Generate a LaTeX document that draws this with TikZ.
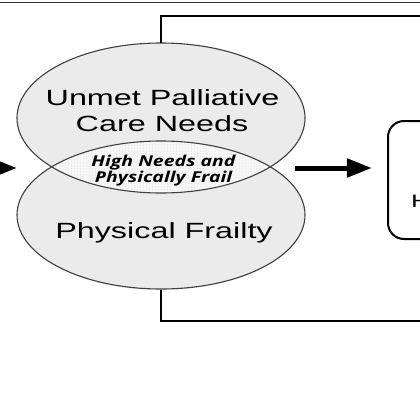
\documentclass[tikz,border=0pt]{standalone}
\usepackage{fontspec}
\setmainfont{Liberation Sans}
\newfontfamily\smallfont{Open Sans}
\usetikzlibrary{shapes.geometric,arrows.meta,patterns}
\newcommand{\hstretch}[1]{\scalebox{1.47}[1]{#1}}
\begin{document}
\begin{tikzpicture}[x=1bp,y=-1bp,
  ellfill/.style={ellipse, inner sep=0pt, minimum width=288bp, minimum height=150bp, fill=black!8},
  ellline/.style={draw=black!75, line width=1.1bp},
  bracket/.style={draw=black, line width=2bp},
  bigarrow/.style={draw=black, line width=5bp, -{Triangle[length=25bp,width=18bp]}},
  bigtext/.style={font=\fontsize{22bp}{26bp}\selectfont, align=center, inner sep=0pt},
  smalltext/.style={font=\smallfont\bfseries\itshape\fontsize{15bp}{17bp}\selectfont, align=center, inner sep=0pt},
  boxstyle/.style={draw=black, line width=2bp, rounded corners=16bp, minimum width=140bp, minimum height=118bp, anchor=north west}
]
\useasboundingbox (0,0) rectangle (420,420);
\clip (0,0) rectangle (420,420);
\fill[white] (0,0) rectangle (420,420);
% top frame line
\coordinate (fl) at (0,2.5);
\coordinate (fr) at (420,2.5);
\draw[draw=black!80, line width=1.5bp] (fl) -- (fr);
% ellipses
\node[ellfill] (U) at (161,118) {};
\node[ellfill] (P) at (161,215) {};
\begin{scope}
  \clip (161,118) ellipse [x radius=144, y radius=75];
  \fill[black!3] (161,215) ellipse [x radius=144, y radius=74];
  \fill[pattern=dots, pattern color=black!15] (161,215) ellipse [x radius=144, y radius=74];
\end{scope}
\draw[ellline] (U.center) ellipse [x radius=144, y radius=75];
\draw[ellline] (P.center) ellipse [x radius=144, y radius=74];
% texts
\node[bigtext, anchor=base] (t1) at (162.5,105) {\hstretch{Unmet Palliative}};
\node[bigtext, anchor=base] (t2) at (162,131) {\hstretch{Care Needs}};
\node[bigtext, anchor=base] (t3) at (164,238) {\hstretch{Physical Frailty}};
\node[smalltext, anchor=base] (s1) at (163.5,166) {\scalebox{1.3}[1]{High Needs and}};
\node[smalltext, anchor=base] (s2) at (163.5,182.5) {\scalebox{1.3}[1]{Physically Frail}};
% brackets
\coordinate (tr) at (430,16);
\coordinate (br) at (430,321);
\draw[bracket] (U.north) |- (tr);
\draw[bracket] (P.south) |- (br);
% box
\node[boxstyle] (box) at (387,120) {};
\node[bigtext, anchor=base west, font=\fontsize{18bp}{20bp}\selectfont] (h) at (411,207) {\hstretch{H}};
% arrows
\coordinate (ls) at (-40,168);
\coordinate (le) at (17,168);
\draw[bigarrow] (ls) -- (le);
\coordinate (ix) at (268,168);
\draw[bigarrow, shorten <=27bp, shorten >=15bp] (ix) -- (ix -| box.west);
\end{tikzpicture}
\end{document}
